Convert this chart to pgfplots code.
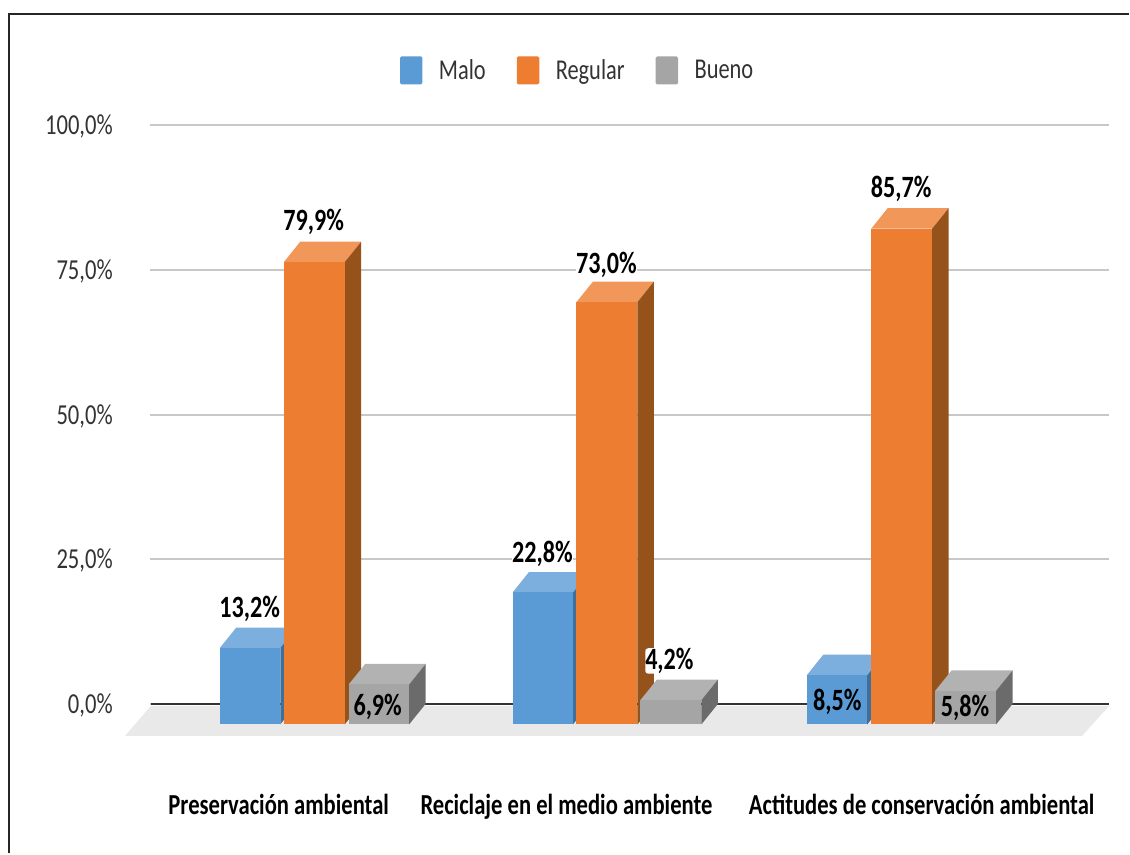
\documentclass[border=0pt]{standalone}
\usepackage{fontspec}
\setmainfont{Carlito}[FakeStretch=0.78]
\usepackage{pgfplots}
\pgfplotsset{compat=1.18}
\definecolor{bluef}{HTML}{5B9BD5}\definecolor{blues}{HTML}{3F6F9C}\definecolor{bluet}{HTML}{7CAFDD}
\definecolor{oranf}{HTML}{ED7D31}\definecolor{orans}{HTML}{95521B}\definecolor{orant}{HTML}{F1975A}
\definecolor{grayf}{HTML}{A5A5A5}\definecolor{grays}{HTML}{6B6B6B}\definecolor{grayt}{HTML}{B2B2B2}
\definecolor{gridc}{HTML}{C8C8C8}\definecolor{floorc}{HTML}{E9E9E9}\definecolor{tickt}{HTML}{333333}
\newcommand{\lab}[3]{\node[font=\fontsize{31}{31}\selectfont\bfseries,text=black,yshift=-2pt,#3] at (axis cs:#1) {#2};}
\pgfplotsset{swatch/.style={legend image code/.code={\fill[rounded corners=1.5pt,draw=none,##1,draw=none] (0pt,-14pt) rectangle (22.5pt,14pt);}}}
\begin{document}
\begin{tikzpicture}
\begin{axis}[
  scale only axis,width=960pt,height=579pt,
  xmin=150,xmax=1110,ymin=0,ymax=100,clip=false,
  axis line style={draw=none},major tick length=0pt,
  ymajorgrids,grid style={gridc,line width=2pt},
  ytick={0,25,50,75,100},
  yticklabels={{0,0\%},{25,0\%},{50,0\%},{75,0\%},{100,0\%}},
  yticklabel style={font=\fontsize{29}{29}\selectfont,text=tickt,anchor=east,inner sep=0pt,xshift=-37pt,yshift=-1.5pt},
  xtick={279,567,922.5},
  xticklabels={Preservación ambiental,Reciclaje en el medio ambiente,Actitudes de conservación ambiental},
  xticklabel style={font=\fontsize{29}{29}\selectfont\bfseries,text=black,anchor=base,inner sep=0pt,yshift=-111pt},
  legend style={at={(0.446,1.095)},anchor=center,draw=none,fill=none,legend columns=3,
    font=\fontsize{28.75}{29}\selectfont,text=tickt,
    /tikz/every odd column/.append style={column sep=14.5pt},
    /tikz/every even column/.append style={column sep=29pt}},
]
\addlegendimage{swatch,fill=bluef}\addlegendentry{Malo}
\addlegendimage{swatch,fill=oranf}\addlegendentry{Regular}
\addlegendimage{swatch,fill=grayf}\addlegendentry{Bueno}
\path (axis cs:0,121.68) rectangle (axis cs:1130,-25.82);
% frame and floor
\addplot[forget plot,black!85,line width=2pt] coordinates {(9.5,-25.82) (9.5,119.3) (1130,119.3)};
\addplot[forget plot,fill=floorc,draw=none] coordinates {(151,-0.35) (1110,-0.35) (1083,-5.53) (125,-5.53)} --cycle;
\addplot[forget plot,color=tickt,line width=2pt] coordinates {(151,0) (1110,0)};
% group 1
\addplot[forget plot,fill=bluet,draw=none] coordinates {(220,9.66) (280.5,9.66) (297,13.2) (236.5,13.2)} --cycle;
\addplot[forget plot,fill=blues,draw=none] coordinates {(280.5,-3.54) (280.5,9.66) (297,13.2) (297,0)} --cycle;
\addplot[forget plot,ybar,bar width=60.5,bar shift=0pt,yshift=-20.5pt,fill=bluef,draw=none] coordinates {(250.25,13.2)};
\addplot[forget plot,fill=orant,draw=none] coordinates {(284,76.36) (345,76.36) (361.5,79.9) (300.5,79.9)} --cycle;
\addplot[forget plot,fill=orans,draw=none] coordinates {(345,-3.54) (345,76.36) (361.5,79.9) (361.5,0)} --cycle;
\addplot[forget plot,ybar,bar width=61,bar shift=0pt,yshift=-20.5pt,fill=oranf,draw=none] coordinates {(314.5,79.9)};
\addplot[forget plot,fill=grayt,draw=none] coordinates {(349,3.36) (409.5,3.36) (426,6.9) (365.5,6.9)} --cycle;
\addplot[forget plot,fill=grays,draw=none] coordinates {(409.5,-3.54) (409.5,3.36) (426,6.9) (426,0)} --cycle;
\addplot[forget plot,ybar,bar width=60.5,bar shift=0pt,yshift=-20.5pt,fill=grayf,draw=none] coordinates {(379.25,6.9)};
% group 2
\addplot[forget plot,fill=bluet,draw=none] coordinates {(513,19.26) (573.5,19.26) (590,22.8) (529.5,22.8)} --cycle;
\addplot[forget plot,fill=blues,draw=none] coordinates {(573.5,-3.54) (573.5,19.26) (590,22.8) (590,0)} --cycle;
\addplot[forget plot,ybar,bar width=60.5,bar shift=0pt,yshift=-20.5pt,fill=bluef,draw=none] coordinates {(543.25,22.8)};
\addplot[forget plot,fill=orant,draw=none] coordinates {(577,69.46) (638,69.46) (654.5,73.0) (593.5,73.0)} --cycle;
\addplot[forget plot,fill=orans,draw=none] coordinates {(638,-3.54) (638,69.46) (654.5,73.0) (654.5,0)} --cycle;
\addplot[forget plot,ybar,bar width=61,bar shift=0pt,yshift=-20.5pt,fill=oranf,draw=none] coordinates {(607.5,73.0)};
\addplot[forget plot,fill=grayt,draw=none] coordinates {(641,0.66) (702,0.66) (718.5,4.2) (657.5,4.2)} --cycle;
\addplot[forget plot,fill=grays,draw=none] coordinates {(702,-3.54) (702,0.66) (718.5,4.2) (718.5,0)} --cycle;
\addplot[forget plot,ybar,bar width=61,bar shift=0pt,yshift=-20.5pt,fill=grayf,draw=none] coordinates {(671.5,4.2)};
% group 3
\addplot[forget plot,fill=bluet,draw=none] coordinates {(807.5,4.96) (868,4.96) (884.5,8.5) (824,8.5)} --cycle;
\addplot[forget plot,fill=blues,draw=none] coordinates {(868,-3.54) (868,4.96) (884.5,8.5) (884.5,0)} --cycle;
\addplot[forget plot,ybar,bar width=60.5,bar shift=0pt,yshift=-20.5pt,fill=bluef,draw=none] coordinates {(837.75,8.5)};
\addplot[forget plot,fill=orant,draw=none] coordinates {(872,82.16) (933,82.16) (949.5,85.7) (888.5,85.7)} --cycle;
\addplot[forget plot,fill=orans,draw=none] coordinates {(933,-3.54) (933,82.16) (949.5,85.7) (949.5,0)} --cycle;
\addplot[forget plot,ybar,bar width=61,bar shift=0pt,yshift=-20.5pt,fill=oranf,draw=none] coordinates {(902.5,85.7)};
\addplot[forget plot,fill=grayt,draw=none] coordinates {(936,2.26) (997,2.26) (1013.5,5.8) (952.5,5.8)} --cycle;
\addplot[forget plot,fill=grays,draw=none] coordinates {(997,-3.54) (997,2.26) (1013.5,5.8) (1013.5,0)} --cycle;
\addplot[forget plot,ybar,bar width=61,bar shift=0pt,yshift=-20.5pt,fill=grayf,draw=none] coordinates {(966.5,5.8)};
% data labels
\lab{314,83.6}{79,9\%}{}
\lab{607,76.3}{73,0\%}{fill=white,inner sep=0pt,rounded corners=3pt}
\lab{902,89.3}{85,7\%}{}
\lab{250,16.75}{13,2\%}{}
\lab{543,26.25}{22,8\%}{fill=white,inner sep=0pt,rounded corners=3pt}
\lab{670,7.77}{4,2\%}{fill=white,inner sep=0pt,rounded corners=3pt}
\lab{378,-0.17}{6,9\%}{}
\lab{838,0.69}{8,5\%}{}
\lab{966,-0.35}{5,8\%}{}
\end{axis}
\end{tikzpicture}
\end{document}
